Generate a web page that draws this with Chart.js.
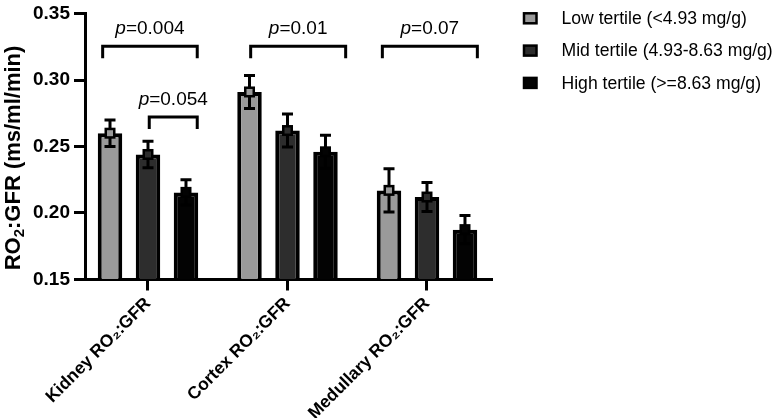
<!DOCTYPE html>
<html><head><meta charset="utf-8">
<script src="https://cdn.jsdelivr.net/npm/chart.js@4/dist/chart.umd.min.js"></script>
<style>html,body{margin:0;padding:0;background:#fff;overflow:hidden}</style>
</head><body>
<canvas id="c" width="773" height="418"></canvas>
<script>
// ---- data ----
const categories = ['Kidney RO\u2082:GFR', 'Cortex RO\u2082:GFR', 'Medullary RO\u2082:GFR'];
const seriesNames = ['Low tertile (<4.93 mg/g)', 'Mid tertile (4.93-8.63 mg/g)', 'High tertile (>=8.63 mg/g)'];
const lowMean  = [0.260, 0.291, 0.217];
const lowErr   = [0.0100, 0.0124, 0.0163];
const midMean  = [0.244, 0.262, 0.212];
const midErr   = [0.0099, 0.0124, 0.0109];
const highMean = [0.2155, 0.246, 0.1875];
const highErr  = [0.0095, 0.0124, 0.0106];
const yTicks   = [0.15, 0.20, 0.25, 0.30, 0.35];
const pLabels  = ['0.004', '0.054', '0.01', '0.07'];
const bracketFrom  = [-0.325, 0.009, 0.736, 1.680];
const bracketTo    = [0.353, 0.353, 1.417, 2.361];
const bracketLevel = [0.3253, 0.2721, 0.3253, 0.3253];

// ---- styling ----
const FONT = "'Liberation Sans', Arial, Helvetica, sans-serif";
Chart.defaults.font.family = FONT;
Chart.defaults.color = '#000';
const fills = ['#9a9a9a', '#2d2d2d', '#030303'];
const means = [lowMean, midMean, highMean];
const errs = [lowErr, midErr, highErr];

const datasets = seriesNames.map((name, k) => ({
  label: name,
  data: means[k].map((v, i) => ({ x: i, y: v })),
  backgroundColor: fills[k],
  borderColor: '#000',
  borderWidth: 4,
  borderSkipped: 'start',
  categoryPercentage: 0.817,
  barPercentage: 0.645,
  base: yTicks[0]
}));

const overlay = {
  id: 'overlay',
  afterDatasetsDraw(chart) {
    const ctx = chart.ctx, ys = chart.scales.y;
    ctx.save();
    chart.data.datasets.forEach((ds, k) => {
      const meta = chart.getDatasetMeta(k);
      meta.data.forEach((bar, i) => {
        const x = bar.x, m = means[k][i], e = errs[k][i];
        const yT = ys.getPixelForValue(m + e), yB = ys.getPixelForValue(m - e), yM = ys.getPixelForValue(m);
        ctx.strokeStyle = '#000'; ctx.lineWidth = 3; ctx.lineCap = 'butt';
        ctx.beginPath();
        ctx.moveTo(x, yT); ctx.lineTo(x, yB);
        ctx.moveTo(x - 5.5, yT); ctx.lineTo(x + 5.5, yT);
        ctx.moveTo(x - 5.5, yB); ctx.lineTo(x + 5.5, yB);
        ctx.stroke();
        ctx.fillStyle = fills[k]; ctx.lineWidth = 2.5;
        ctx.fillRect(x - 4.25, yM - 4.25, 8.5, 8.5);
        ctx.strokeRect(x - 4.25, yM - 4.25, 8.5, 8.5);
      });
    });
    ctx.restore();
  },
  afterDraw(chart) {
    const ctx = chart.ctx, xs = chart.scales.x, ys = chart.scales.y;
    ctx.save();
    // brackets + p values
    ctx.strokeStyle = '#000'; ctx.lineWidth = 3; ctx.lineJoin = 'miter'; ctx.lineCap = 'butt';
    for (let b = 0; b < pLabels.length; b++) {
      const x1 = xs.getPixelForValue(bracketFrom[b]);
      const x2 = xs.getPixelForValue(bracketTo[b]);
      const y = ys.getPixelForValue(bracketLevel[b]);
      ctx.beginPath();
      ctx.moveTo(x1, y + 12); ctx.lineTo(x1, y); ctx.lineTo(x2, y); ctx.lineTo(x2, y + 12);
      ctx.stroke();
      ctx.fillStyle = '#000';
      ctx.textBaseline = 'alphabetic'; ctx.textAlign = 'left';
      const fI = 'italic 19px ' + FONT, fN = '19px ' + FONT;
      ctx.font = fI; const wp = ctx.measureText('p').width;
      ctx.font = fN; const wr = ctx.measureText('=' + pLabels[b]).width;
      const cx = (x1 + x2) / 2, sx = cx - (wp + wr) / 2, by = y - 12;
      ctx.font = fI; ctx.fillText('p', sx, by);
      ctx.font = fN; ctx.fillText('=' + pLabels[b], sx + wp, by);
    }
    // legend
    const rowY = [18.3, 50.6, 82.9];
    chart.data.datasets.forEach((ds, k) => {
      ctx.fillStyle = ds.backgroundColor;
      ctx.fillRect(524, rowY[k] - 5, 12.5, 10);
      ctx.lineWidth = 2.5; ctx.strokeStyle = '#000';
      ctx.strokeRect(524, rowY[k] - 5, 12.5, 10);
      ctx.fillStyle = '#000';
      ctx.font = '17.6px ' + FONT; ctx.textBaseline = 'middle'; ctx.textAlign = 'left';
      ctx.fillText(ds.label, 561.5, rowY[k] + 1);
    });
    // y axis title with subscript
    const fB = 'bold 22px ' + FONT, fS = 'bold 15px ' + FONT;
    ctx.font = fB; const w1 = ctx.measureText('RO').width, w3 = ctx.measureText(':GFR (ms/ml/min)').width;
    ctx.font = fS; const w2 = ctx.measureText('2').width;
    const tot = w1 + w2 + w3;
    ctx.translate(20, 158);
    ctx.rotate(-Math.PI / 2);
    ctx.textBaseline = 'alphabetic'; ctx.textAlign = 'left';
    let tx = -tot / 2;
    ctx.font = fB; ctx.fillText('RO', tx, 0); tx += w1;
    ctx.font = fS; ctx.fillText('2', tx, 4); tx += w2;
    ctx.font = fB; ctx.fillText(':GFR (ms/ml/min)', tx, 0);
    ctx.restore();
  }
};

new Chart(document.getElementById('c'), {
  type: 'bar',
  data: { datasets },
  options: {
    responsive: false, animation: false, devicePixelRatio: 1,
    layout: { padding: { left: 0, top: 10, right: 281, bottom: 0 } },
    plugins: { legend: { display: false }, tooltip: { enabled: false } },
    scales: {
      x: {
        type: 'linear', min: -0.4516, max: 2.466, offset: false,
        afterBuildTicks: s => { s.ticks = categories.map((c, i) => ({ value: i })); },
        afterFit: s => { s.height = 138.5; },
        grid: { drawOnChartArea: false, drawTicks: true, tickLength: 11, tickWidth: 3, tickColor: '#000', offset: false },
        border: { display: true, color: '#000', width: 3 },
        ticks: { autoSkip: false, minRotation: 45, maxRotation: 45, padding: 3, color: '#000',
          font: { size: 17.5, weight: 'bold' }, callback: v => categories[v] }
      },
      y: {
        min: yTicks[0], max: yTicks[yTicks.length - 1],
        afterBuildTicks: s => { s.ticks = yTicks.map(v => ({ value: v })); },
        afterFit: s => { s.width = 85; },
        grid: { drawOnChartArea: false, drawTicks: true, tickLength: 11, tickWidth: 3, tickColor: '#000' },
        border: { display: true, color: '#000', width: 3 },
        ticks: { padding: 4, color: '#000', font: { size: 19, weight: 'bold', lineHeight: 1 },
          callback: v => Number(v).toFixed(2) }
      }
    }
  },
  plugins: [overlay]
});
</script>
</body></html>
